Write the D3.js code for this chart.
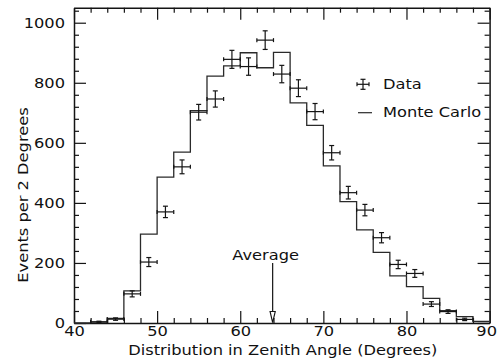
<!DOCTYPE html>
<html>
<head>
<meta charset="utf-8">
<script src="https://cdn.jsdelivr.net/npm/d3@7"></script>
<style>
  html, body { margin: 0; padding: 0; background: #fff; }
  svg { display: block; }
  text { font-family: "DejaVu Sans", sans-serif; fill: #111; }
</style>
</head>
<body>
<script>
// Monte Carlo histogram: 2-degree bins, left edges and expected counts
const mcBinStart = [40, 42, 44, 46, 48, 50, 52, 54, 56, 58, 60, 62, 64, 66, 68, 70, 72, 74, 76, 78, 80, 82, 84, 86, 88];
const mcCounts   = [0, 3, 15, 107, 296, 486, 569, 707, 822, 856, 900, 850, 901, 733, 658, 523, 404, 310, 235, 157, 121, 82, 41, 21, 5];

// Measured events at bin centres with statistical errors
const dataAngles = [43, 45, 47, 49, 51, 53, 55, 57, 59, 61, 63, 65, 67, 69, 71, 73, 75, 77, 79, 81, 83, 85, 87];
const dataCounts = [4, 13, 97, 203, 370, 520, 702, 746, 878, 854, 942, 829, 782, 704, 567, 434, 376, 284, 195, 165, 63, 38, 12];
const dataErrors = [2, 4, 10, 15, 19, 23, 26, 27, 30, 29, 31, 29, 28, 27, 24, 21, 19, 17, 14, 13, 8, 6, 4];
const binHalfWidth = 1;

// Axes
const xMajorTicks = [40, 50, 60, 70, 80, 90];
const xMinorTicks = d3.range(42, 90, 2).filter(v => v % 10 !== 0);
const yMajorTicks = [0, 200, 400, 600, 800, 1000];
const yMinorTicks = [40, 80, 120, 160, 240, 280, 320, 360, 440, 480, 520, 560, 640, 680, 720, 760, 840, 880, 920, 960, 1040];
const averageAngle = 63.9;

const xTitle = "Distribution in Zenith Angle (Degrees)";
const yTitle = "Events per 2 Degrees";
const legendLabels = ["Data", "Monte Carlo"];

const W = 498, H = 360;
const margin = { top: 7.7, right: 8.4, bottom: 37, left: 74 };
const SX = 1.16;          // horizontal stretch of the lettering
const FS = 14;            // base font size
const INK = "#141414";

const svg = d3.select("body").append("svg").attr("width", W).attr("height", H);

const x = d3.scaleLinear().domain([40, 90]).range([margin.left, W - margin.right]);
const y = d3.scaleLinear().domain([0, 1050]).range([H - margin.bottom, margin.top]);

function styleAxis(g) {
  g.selectAll("path.domain").attr("stroke", INK).attr("stroke-width", 1.5);
  g.selectAll(".tick line").attr("stroke", INK).attr("stroke-width", 1.2);
  g.selectAll("text").attr("font-family", "DejaVu Sans, sans-serif").attr("font-size", FS).attr("fill", INK);
}

// Left axis with labels
const gLeft = svg.append("g").attr("transform", `translate(${x(40)},0)`)
  .call(d3.axisLeft(y).tickValues(yMajorTicks).tickSizeInner(-12).tickSizeOuter(0).tickPadding(9).tickFormat(d3.format("d")))
  .call(styleAxis);
gLeft.selectAll("text").attr("transform", `scale(${SX},1)`).attr("x", -9 / SX);
svg.append("g").attr("transform", `translate(${x(40)},0)`)
  .call(d3.axisLeft(y).tickValues(yMinorTicks).tickSizeInner(-5).tickSizeOuter(0).tickFormat(""))
  .call(styleAxis).select("path.domain").remove();

// Right axis (mirror ticks)
svg.append("g").attr("transform", `translate(${x(90)},0)`)
  .call(d3.axisRight(y).tickValues(yMajorTicks).tickSizeInner(-12).tickSizeOuter(0).tickFormat(""))
  .call(styleAxis);
svg.append("g").attr("transform", `translate(${x(90)},0)`)
  .call(d3.axisRight(y).tickValues(yMinorTicks).tickSizeInner(-5).tickSizeOuter(0).tickFormat(""))
  .call(styleAxis).select("path.domain").remove();

// Bottom axis with labels; the last label is kept inside the page edge
const gBottom = svg.append("g").attr("transform", `translate(0,${y(0)})`)
  .call(d3.axisBottom(x).tickValues(xMajorTicks).tickSizeInner(-12).tickSizeOuter(0).tickPadding(3).tickFormat(d3.format("d")))
  .call(styleAxis);
gBottom.selectAll("text").attr("transform", `scale(${SX},1)`).attr("x", 0);
gBottom.selectAll(".tick").filter(d => d === 90).select("text")
  .attr("text-anchor", "end").attr("x", (W - 1.5 - x(90)) / SX);
svg.append("g").attr("transform", `translate(0,${y(0)})`)
  .call(d3.axisBottom(x).tickValues(xMinorTicks).tickSizeInner(-5).tickSizeOuter(0).tickFormat(""))
  .call(styleAxis).select("path.domain").remove();

// Top axis (mirror ticks)
svg.append("g").attr("transform", `translate(0,${y(1050)})`)
  .call(d3.axisTop(x).tickValues(xMajorTicks).tickSizeInner(-12).tickSizeOuter(0).tickFormat(""))
  .call(styleAxis);
svg.append("g").attr("transform", `translate(0,${y(1050)})`)
  .call(d3.axisTop(x).tickValues(xMinorTicks).tickSizeInner(-5).tickSizeOuter(0).tickFormat(""))
  .call(styleAxis).select("path.domain").remove();

// Stretched text helper
function stretchedText(parent, tx, ty, rot, str, size, anchor) {
  const g = parent.append("g").attr("transform", `translate(${tx},${ty}) rotate(${rot}) scale(${SX},1)`);
  g.append("text").attr("text-anchor", anchor).attr("font-size", size).attr("fill", INK).text(str);
  return g;
}

// Axis titles
stretchedText(svg, (x(40) + x(90)) / 2 + 1, 355, 0, xTitle, FS, "middle");
stretchedText(svg, 28, 195, -90, yTitle, FS, "middle");

// Monte Carlo histogram as a step outline
const stepPts = mcBinStart.map((s, i) => [s, mcCounts[i]]);
stepPts.push([mcBinStart[mcBinStart.length - 1] + 2, mcCounts[mcCounts.length - 1]]);
const stepLine = d3.line().x(d => x(d[0])).y(d => y(d[1])).curve(d3.curveStepAfter);
svg.append("path").datum(stepPts)
  .attr("d", stepLine).attr("fill", "none").attr("stroke", "#2a2a2a").attr("stroke-width", 1.3);

// Data points with error bars
const pts = svg.append("g").attr("stroke", INK).attr("stroke-width", 1.2).attr("fill", "none");
dataAngles.forEach((a, i) => {
  const v = dataCounts[i], e = dataErrors[i];
  const cx = x(a), cy = y(v);
  const xl = x(a - binHalfWidth), xr = x(a + binHalfWidth);
  const yt = y(v + e), yb = y(v - e);
  const g = pts.append("g");
  g.append("line").attr("x1", xl).attr("x2", xr).attr("y1", cy).attr("y2", cy);
  g.append("line").attr("x1", xl).attr("x2", xl).attr("y1", cy - 2).attr("y2", cy + 2);
  g.append("line").attr("x1", xr).attr("x2", xr).attr("y1", cy - 2).attr("y2", cy + 2);
  g.append("line").attr("x1", cx).attr("x2", cx).attr("y1", yt).attr("y2", yb);
  g.append("line").attr("x1", cx - 2.5).attr("x2", cx + 2.5).attr("y1", yt).attr("y2", yt);
  g.append("line").attr("x1", cx - 2.5).attr("x2", cx + 2.5).attr("y1", yb).attr("y2", yb);
});

// Average marker: open arrow pointing at the axis
const ax = x(averageAngle);
const base = y(0);
svg.append("line").attr("x1", ax).attr("x2", ax).attr("y1", base - 60).attr("y2", base - 11)
  .attr("stroke", INK).attr("stroke-width", 1.2);
svg.append("path")
  .attr("d", `M${ax - 2.6},${base - 11.5} L${ax + 2.6},${base - 11.5} L${ax},${base - 0.5} Z`)
  .attr("fill", "#fff").attr("stroke", INK).attr("stroke-width", 1.1);
stretchedText(svg, ax - 7, base - 63, 0, "Average", FS, "middle");

// Legend
const lg = svg.append("g");
const ly1 = 84.3, ly2 = 112.7, lx = 357, ltx = 383;
const sym = lg.append("g").attr("stroke", INK).attr("stroke-width", 1.2);
sym.append("line").attr("x1", lx).attr("x2", lx + 12).attr("y1", ly1).attr("y2", ly1);
sym.append("line").attr("x1", lx).attr("x2", lx).attr("y1", ly1 - 2).attr("y2", ly1 + 2);
sym.append("line").attr("x1", lx + 12).attr("x2", lx + 12).attr("y1", ly1 - 2).attr("y2", ly1 + 2);
sym.append("line").attr("x1", lx + 6).attr("x2", lx + 6).attr("y1", ly1 - 5).attr("y2", ly1 + 5);
sym.append("line").attr("x1", lx + 3.5).attr("x2", lx + 8.5).attr("y1", ly1 - 5).attr("y2", ly1 - 5);
sym.append("line").attr("x1", lx + 3.5).attr("x2", lx + 8.5).attr("y1", ly1 + 5).attr("y2", ly1 + 5);
stretchedText(lg, ltx, 88.5, 0, legendLabels[0], FS, "start");
lg.append("line").attr("x1", lx + 1).attr("x2", lx + 15).attr("y1", ly2).attr("y2", ly2)
  .attr("stroke", "#2a2a2a").attr("stroke-width", 1.2);
stretchedText(lg, ltx, 117, 0, legendLabels[1], FS, "start");
</script>
</body>
</html>
